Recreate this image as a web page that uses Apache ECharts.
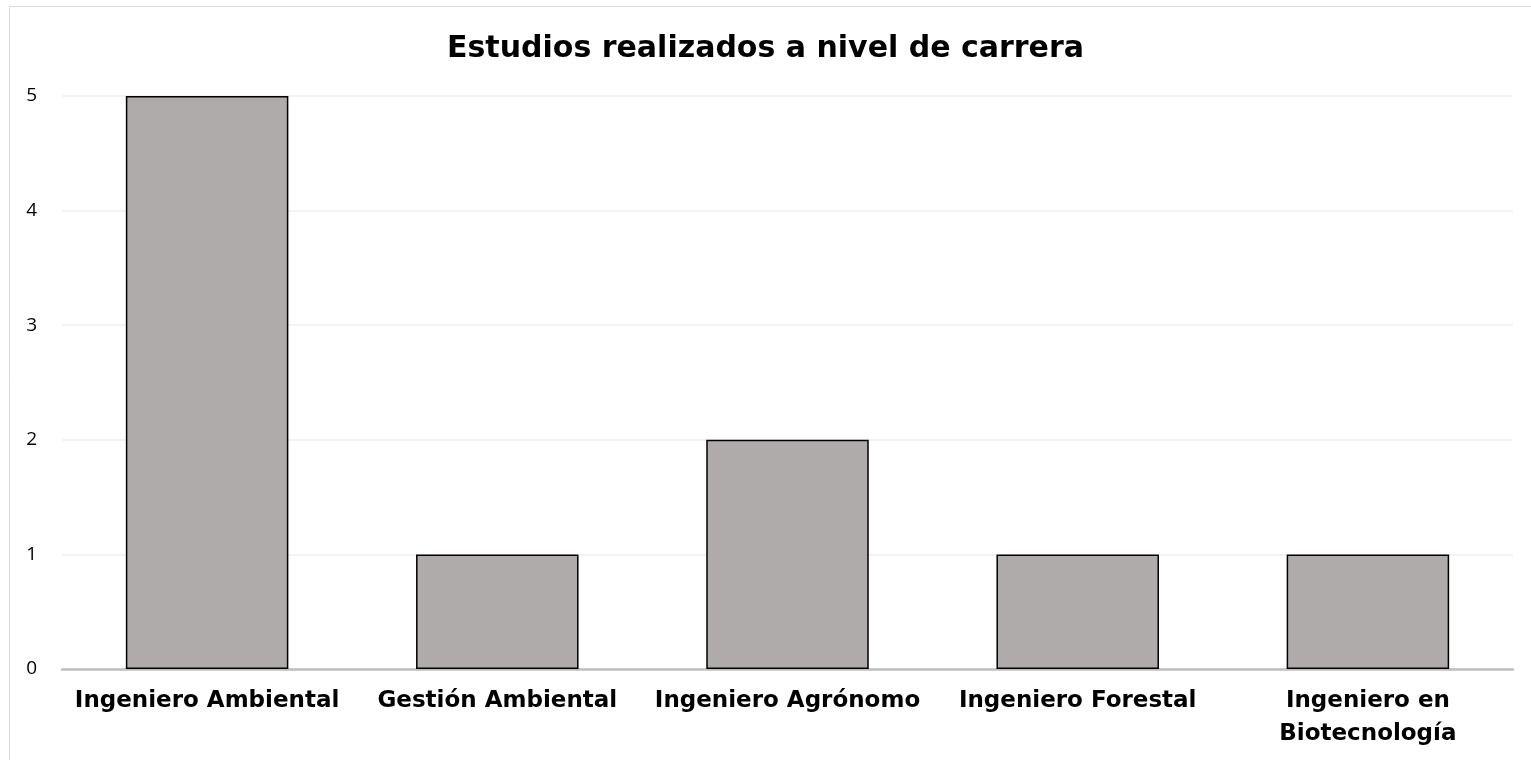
<!DOCTYPE html>
<html><head><meta charset="utf-8">
<script src="https://cdn.jsdelivr.net/npm/echarts@6/dist/echarts.min.js"></script>
<style>html,body{margin:0;padding:0;background:#fff}#c{width:1531px;height:760px}</style>
</head><body><div id="c"></div>
<script>
const categories = ['Ingeniero Ambiental', 'Gestión Ambiental', 'Ingeniero Agrónomo', 'Ingeniero Forestal', 'Ingeniero en\nBiotecnología'];
const values = [5, 1, 2, 1, 1];
const yTicks = [0, 1, 2, 3, 4, 5];
const chart = echarts.init(document.getElementById('c'));
chart.setOption({
  animation: false,
  graphic: [{type: 'rect', shape: {x: 9.5, y: 6.5, width: 1540, height: 800}, style: {fill: 'none', stroke: '#d9d9d9', lineWidth: 1}, z: -1}],
  title: {text: 'Estudios realizados a nivel de carrera', left: 'center', top: 34, padding: 0,
    textStyle: {fontFamily: 'DejaVu Sans', fontWeight: 'bold', fontSize: 30, color: '#000'}},
  grid: {left: 62, right: 18, top: 96, bottom: 91, containLabel: false},
  xAxis: {type: 'category', data: categories,
    axisLine: {lineStyle: {color: '#bfbfbf', width: 2.5}}, axisTick: {show: false},
    axisLabel: {interval: 0, margin: 16, fontFamily: 'DejaVu Sans', fontWeight: 'bold', fontSize: 23, color: '#000', lineHeight: 33}},
  yAxis: {type: 'value', min: yTicks[0], max: yTicks[yTicks.length-1], interval: 1,
    axisLine: {show: false}, axisTick: {show: false},
    splitLine: {lineStyle: {color: '#efefef', width: 1.5}},
    axisLabel: {margin: 25, fontFamily: 'Open Sans', fontSize: 19, color: '#000'}},
  series: [{type: 'bar', data: values, barWidth: '56%',
    itemStyle: {color: '#afabab', borderColor: '#000', borderWidth: 1.5}}]
});
</script></body></html>
